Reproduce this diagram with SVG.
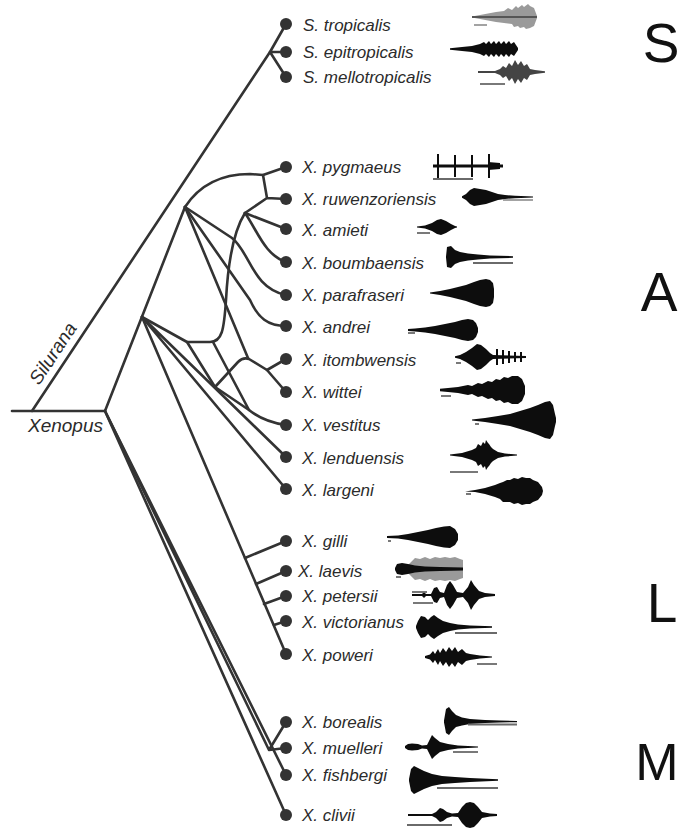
<svg xmlns="http://www.w3.org/2000/svg" width="681" height="832" viewBox="0 0 681 832">
<style>
.e{fill:none;stroke:#333;stroke-width:2.6;stroke-linecap:round;stroke-linejoin:round}
.d{fill:#333}
.t{font-family:"Liberation Sans",Arial,sans-serif;font-style:italic;font-size:17px;fill:#2b2b2b}
.b{font-family:"Liberation Sans",Arial,sans-serif;font-size:55px;fill:#111}
.w{fill:#0d0d0d}
.g{fill:#9a9a9a}
.sb{stroke:#6a6a6a;stroke-width:1.8;fill:none}
.tk{stroke:#0d0d0d;stroke-width:2;fill:none}
</style>
<rect width="681" height="832" fill="#fff"/>
<g id="edges">
<path class="e" d="M12,411 L105,411"/>
<path class="e" d="M32,411 L270,52"/>
<path class="e" d="M270,52 L286,24 M270,52 L286,52 M270,52 L286,77"/>
<path class="e" d="M105,411 L185,207"/>
<path class="e" d="M185,207 C200,184 222,174 250,174 L263,175 L286,167"/>
<path class="e" d="M263,175 L267,198 L286,199 M267,198 L245,213"/>
<path class="e" d="M245,213 L286,229"/>
<path class="e" d="M245,213 C258,232 265,255 286,262"/>
<path class="e" d="M245,213 C233,232 228,262 226,300 C224,330 222,342 210,342 L187,342"/>
<path class="e" d="M142,317 L187,342 L215,387"/>
<path class="e" d="M215,387 L238,362 Q243,357 249,359 L267,370"/>
<path class="e" d="M267,370 L286,359 M267,370 L286,392"/>
<path class="e" d="M185,207 L248,358"/>
<path class="e" d="M213,342 L249,410"/>
<path class="e" d="M215,387 L249,410 Q264,422 286,425"/>
<path class="e" d="M185,207 L232,238 C250,252 252,288 286,295"/>
<path class="e" d="M185,207 L250,300 C258,318 268,326 286,326"/>
<path class="e" d="M142,317 L286,457 M142,317 L286,489"/>
<path class="e" d="M142,317 L286,654"/>
<path class="e" d="M245,558 L286,541 M256,584 L286,571 M264,604 L286,596 M274,625 L286,621"/>
<path class="e" d="M105,411 L269,750 M269,750 L286,722 M269,750 L286,748"/>
<path class="e" d="M105,411 L286,775 M105,411 L286,815"/>
<text class="t" transform="translate(39,386) rotate(-56.5)" style="font-size:19px">Silurana</text>
<text class="t" x="28" y="432" style="font-size:19px">Xenopus</text>
</g>
<g id="clade-S"><text class="b" x="661" y="62" text-anchor="middle">S</text></g>
<g id="clade-A"><text class="b" x="659" y="311" text-anchor="middle">A</text></g>
<g id="clade-L"><text class="b" x="662" y="622" text-anchor="middle">L</text></g>
<g id="clade-M"><text class="b" x="657" y="780" text-anchor="middle" style="font-size:52px">M</text></g>

<g id="s-tropicalis"><circle class="d" cx="286" cy="24" r="6"/><text class="t" x="303" y="31">S. tropicalis</text>
<path class="g" d="M472,16.5 L480,15 488,13.5 496,12 504,11 508,8 512,10 516,6 518,8 522,5 524,7 528,4 530,6 534,8 537,16 537,18 534,26 530,28 526,29 524,27 520,28 518,26 514,27 512,24 504,23 496,22 488,20.5 480,19 472,17.5Z"/>
<line x1="472" y1="17" x2="537" y2="17" stroke="#555" stroke-width="2"/>
<line class="sb" x1="474" y1="25" x2="487" y2="25" style="stroke:#999"/></g>

<g id="s-epitropicalis"><circle class="d" cx="286" cy="52" r="6"/><text class="t" x="303" y="58">S. epitropicalis</text>
<path class="w" d="M450,48.2 L462,47 472,46 480,44 484,42 486,44 489,41 491,44 494,41 496,44 499,41 501,44 504,41 506,44 509,41 511,44 514,42 516,45 518,48 518,50 516,53 514,56 511,54 509,57 506,54 504,57 501,54 499,57 496,54 494,57 491,54 489,57 486,54 484,56 480,54 472,52 462,51 450,49.8Z"/></g>

<g id="s-mellotropicalis"><circle class="d" cx="286" cy="77" r="6"/><text class="t" x="303" y="83">S. mellotropicalis</text>
<path fill="#444" d="M478,71 L495,71 500,69 503,66 506,68 509,63 512,66 515,60 518,65 521,61 524,66 527,64 530,69 535,70 545,71.2 545,72.8 535,74 530,75 527,80 524,78 521,83 518,79 515,84 512,78 509,81 506,76 503,78 500,75 495,73 478,73Z"/>
<line class="sb" x1="480" y1="84" x2="505" y2="84"/></g>

<g id="x-pygmaeus"><circle class="d" cx="286" cy="167" r="6"/><text class="t" x="302" y="173">X. pygmaeus</text>
<path class="w" d="M433,164.5 L503,164.5 503,167.5 433,167.5Z M488,162 L500,163 500,169 488,170Z"/>
<path class="tk" d="M438,154 V178 M455,155 V177 M472,155 V177 M489,154 V178"/>
<line class="sb" x1="433" y1="179" x2="473" y2="179"/></g>

<g id="x-ruwenzoriensis"><circle class="d" cx="286" cy="199" r="6"/><text class="t" x="302" y="205">X. ruwenzoriensis</text>
<path class="w" d="M462,196.2 L466,194 470,190 474,188 480,189 486,190 492,192 498,194 505,195 515,195.8 533,196.4 533,197.6 515,198.2 505,199 498,200 492,202 486,204 480,205 474,206 470,204 466,200 462,197.8Z"/>
<line class="sb" x1="503" y1="200" x2="533" y2="200" style="stroke:#999"/></g>

<g id="x-amieti"><circle class="d" cx="286" cy="229" r="6"/><text class="t" x="302" y="236">X. amieti</text>
<path class="w" d="M417,226.4 L425,225.5 432,223 437,220 441,219 446,221 451,224 455,226 457,226.5 457,227.5 455,228 451,230 446,233 441,235 437,234 432,231 425,228.5 417,227.6Z"/>
<line class="sb" x1="417" y1="233" x2="430" y2="233"/></g>

<g id="x-boumbaensis"><circle class="d" cx="286" cy="262" r="6"/><text class="t" x="302" y="269">X. boumbaensis</text>
<path class="w" d="M446,256.5 L447,247 451,246 455,250 460,252 468,253.5 478,254.5 490,255.5 513,256.2 513,257.8 490,258.5 478,259.5 468,260.5 460,262 455,264 451,268 447,267 446,257.5Z"/>
<line class="sb" x1="473" y1="263" x2="513" y2="263"/></g>

<g id="x-parafraseri"><circle class="d" cx="286" cy="295" r="6"/><text class="t" x="302" y="301">X. parafraseri</text>
<path class="w" d="M430,292.4 L440,291 450,289 458,287 466,285 474,282 480,280 486,279 490,280 493,283 494,289 494,297 493,303 490,306 486,307 480,306 474,304 466,301 458,299 450,297 440,295 430,293.6Z"/></g>

<g id="x-andrei"><circle class="d" cx="286" cy="326" r="6"/><text class="t" x="302" y="333">X. andrei</text>
<path class="w" d="M408,329 L415,328.5 425,327.5 435,326 445,324 455,322 462,320 468,319 473,320 476,323 478,328 478,332 476,337 473,340 468,341 462,340 455,338 445,336 435,334 425,332.5 415,331.5 408,331Z"/>
<line class="sb" x1="408" y1="333" x2="415" y2="333"/></g>

<g id="x-itombwensis"><circle class="d" cx="286" cy="359" r="6"/><text class="t" x="302" y="366">X. itombwensis</text>
<path class="w" d="M455,356.2 L460,355 466,352 472,348 477,344 481,345 486,349 490,353 493,355 526,356 526,358 493,359 490,361 486,365 481,369 477,370 472,366 466,362 460,359 455,357.8Z"/>
<path class="tk" d="M497,349 V365 M503,350 V364 M509,351 V363 M515,352 V362 M521,352 V362"/>
<line class="sb" x1="456" y1="363" x2="461" y2="363"/></g>

<g id="x-wittei"><circle class="d" cx="286" cy="392" r="6"/><text class="t" x="302" y="398">X. wittei</text>
<path class="w" d="M440,388.8 L448,388 458,387 468,385 472,386 478,383 482,384 488,381 492,382 496,379 500,380 504,377 508,378 512,376 518,376 522,379 525,386 525,394 522,401 518,404 512,404 508,402 504,403 500,400 496,401 492,398 488,399 482,396 478,397 472,394 468,395 458,393 448,392 440,391.2Z"/>
<line class="sb" x1="441" y1="396" x2="451" y2="396"/></g>

<g id="x-vestitus"><circle class="d" cx="286" cy="425" r="6"/><text class="t" x="302" y="431">X. vestitus</text>
<path class="w" d="M472,419.4 L485,418 498,416 510,414 520,411 530,408 538,405 545,402 550,401 553,405 555,414 556,418 556,422 555,426 553,435 550,439 545,438 538,435 530,432 520,429 510,426 498,424 485,422 472,420.6Z"/>
<line class="sb" x1="475" y1="424" x2="479" y2="424"/></g>

<g id="x-lenduensis"><circle class="d" cx="286" cy="457" r="6"/><text class="t" x="302" y="464">X. lenduensis</text>
<path class="w" d="M450,454.4 L462,453 472,450 476,448 478,444 481,446 483,442 485,444 486,440 488,443 489,444 491,447 493,449 498,452 505,453.5 517,454.4 517,455.6 505,456.5 498,458 493,461 491,463 489,466 488,467 486,470 485,466 483,468 481,464 478,466 476,462 472,460 462,457 450,455.6Z"/>
<line class="sb" x1="450" y1="472" x2="478" y2="472"/></g>

<g id="x-largeni"><circle class="d" cx="286" cy="489" r="6"/><text class="t" x="302" y="496">X. largeni</text>
<path class="w" d="M465,491.4 L475,490 485,488 495,485 500,483 503,482 507,480 510,480 514,478 518,479 522,477 526,478 530,478 533,480 538,482 542,487 543,491 542,495 538,500 533,502 530,504 526,504 522,505 518,503 514,504 510,502 507,502 503,502 500,499 495,497 485,494 475,492 465,491.6Z"/>
<line class="sb" x1="466" y1="494" x2="471" y2="494"/></g>

<g id="x-gilli"><circle class="d" cx="286" cy="541" r="6"/><text class="t" x="302" y="547">X. gilli</text>
<path class="w" d="M387,536 L398,535.5 408,534 418,532 428,530 436,528 444,526.5 450,526 455,529 458,534 458,540 455,545 450,548 444,547.5 436,546 428,544 418,542 408,540 398,538.5 387,538Z"/>
<line class="sb" x1="388" y1="541" x2="391" y2="541"/></g>

<g id="x-laevis"><circle class="d" cx="286" cy="571" r="6"/><text class="t" x="298" y="577">X. laevis</text>
<path class="g" d="M408,565 L415,558 420,559 425,557 430,559 435,557 440,558 445,557 450,558 455,557 460,559 463,560 463,578 460,579 455,581 450,580 445,581 440,580 435,581 430,579 425,581 420,579 415,580 408,573Z"/>
<path class="w" d="M395,568 L397,564 402,563 408,564 415,565.5 425,566.5 440,567 463,567.5 463,570.5 440,571 425,571.5 415,572.5 408,574 402,575 397,574 395,570Z"/>
<line class="sb" x1="396" y1="577" x2="401" y2="577"/></g>

<g id="x-petersii"><circle class="d" cx="286" cy="596" r="6"/><text class="t" x="302" y="602">X. petersii</text>
<path class="w" d="M412,594 L422,594 424,592 426,594 431,594 434,588 437,587 440,592 444,593 447,585 450,581 453,585 457,592 463,593 468,587 471,580 474,585 479,591 485,593 495,594 495,596 485,597 479,599 474,605 471,610 468,603 463,597 457,598 453,605 450,609 447,605 444,597 440,598 437,603 434,602 431,596 426,596 424,598 422,596 412,596Z"/>
<line class="sb" x1="412" y1="592" x2="427" y2="592"/>
<line class="sb" x1="413" y1="603" x2="433" y2="603"/></g>

<g id="x-victorianus"><circle class="d" cx="286" cy="621" r="6"/><text class="t" x="302" y="628">X. victorianus</text>
<path class="w" d="M416,626 L418,621 421,616 425,617 428,620 431,617 434,615 438,618 443,621 450,623 458,624.5 470,625.5 492,626.2 492,627.8 470,628.5 458,629.5 450,631 443,633 438,636 434,639 431,637 428,634 425,637 421,638 418,633 416,628Z"/>
<line class="sb" x1="455" y1="633" x2="497" y2="633"/></g>

<g id="x-poweri"><circle class="d" cx="286" cy="654" r="6"/><text class="t" x="302" y="661">X. poweri</text>
<path class="w" d="M425,656 L430,654.5 433,651 435,654 438,649 440,653 443,648 446,652 449,647 452,651 455,647 458,652 462,649 466,653 470,654 480,655.5 492,656.4 492,657.6 480,658.5 470,660 466,661 462,665 458,662 455,667 452,663 449,667 446,662 443,666 440,661 438,665 435,660 433,663 430,659.5 425,658Z"/>
<line class="sb" x1="477" y1="664" x2="497" y2="664"/></g>

<g id="x-borealis"><circle class="d" cx="286" cy="722" r="6"/><text class="t" x="302" y="728">X. borealis</text>
<path class="w" d="M444,720.5 L446,709 449,707 452,711 456,715 462,717.5 470,719 485,720 500,720.5 517,721 517,722.2 500,722.5 485,723 470,724 462,725.5 456,727 452,731 449,735 446,733 444,722.5Z"/>
<line class="sb" x1="468" y1="724.5" x2="517" y2="724.5"/></g>

<g id="x-muelleri"><circle class="d" cx="286" cy="748" r="6"/><text class="t" x="302" y="754">X. muelleri</text>
<path class="w" d="M405,746 L408,744 412,743.5 418,744 422,745.5 427,745 430,739 432,735 435,738 440,742 448,744 458,745.5 478,746.4 478,747.6 458,748.5 448,750 440,752 435,756 432,759 430,755 427,749 422,748.5 418,750 412,750.5 408,750 405,748Z"/>
<line class="sb" x1="453" y1="752" x2="478" y2="752"/></g>

<g id="x-fishbergi"><circle class="d" cx="286" cy="775" r="6"/><text class="t" x="302" y="781">X. fishbergi</text>
<path class="w" d="M409,779 L411,769 414,766 418,768 424,771 432,774 442,776 455,777 470,778 498,779.2 498,780.8 470,782 455,783 442,784 432,786 424,789 418,792 414,794 411,791 409,781Z"/>
<line class="sb" x1="437" y1="788" x2="498" y2="788"/></g>

<g id="x-clivii"><circle class="d" cx="286" cy="815" r="6"/><text class="t" x="302" y="821">X. clivii</text>
<path class="w" d="M408,814 L432,814 436,812 440,808 443,809 447,812 452,813.5 458,813 462,807 466,803 470,802 474,803 478,807 482,812 490,813.5 497,814 497,816 490,816.5 482,818 478,823 474,827 470,828 466,827 462,823 458,817 452,816.5 447,818 443,821 440,822 436,818 432,816 408,816Z"/>
<line class="sb" x1="407" y1="825" x2="452" y2="825"/></g>
</svg>
